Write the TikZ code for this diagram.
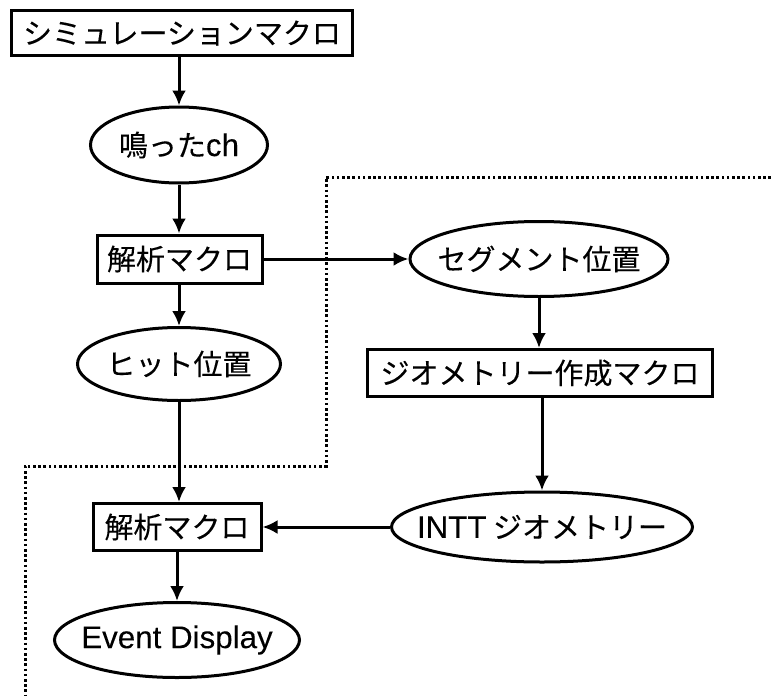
\documentclass[tikz,border=0pt]{standalone}
\usepackage{fontspec}
\setmainfont{Noto Sans CJK JP}[FakeBold=0.2]
\newfontfamily\latin{Liberation Sans}[Scale=1.08,FakeBold=0.1]
\usetikzlibrary{arrows.meta,shapes.geometric}
% label in a zero-width box, so an ellipse keeps its given size
\newcommand\flatlabel[1]{\makebox[0pt]{#1}}
\begin{document}
\begin{tikzpicture}[x=1pt,y=-1pt,
  every node/.style={font=\fontsize{29}{32}\selectfont, inner sep=0pt},
  macro/.style={draw, rectangle, line width=3pt},
  data/.style={draw, ellipse, line width=3pt},
  flow/.style={line width=3pt, -{Latex[length=15pt,width=14pt]}},
  bound/.style={line width=3pt, dash pattern=on 2.6pt off 2.6pt}]
\useasboundingbox (0,0) rectangle (771,696);

\node[macro, minimum width=341pt, minimum height=45pt] (sim) at (182,33) {シミュレーションマクロ};
\node[data, minimum width=177pt, minimum height=76pt] (ch) at (179,145) {\flatlabel{鳴った{\latin ch}}};
\node[macro, minimum width=165pt, minimum height=48pt] (ana1) at (179.5,259) {解析マクロ};
\node[data, minimum width=258pt, minimum height=75pt] (seg) at (539,259) {\flatlabel{セグメント位置}};
\node[data, minimum width=203pt, minimum height=73pt] (hit) at (179,364) {\flatlabel{ヒット位置}};
\node[macro, minimum width=345pt, minimum height=47pt] (geo) at (540,373) {ジオメトリー作成マクロ};
\node[data, minimum width=301pt, minimum height=70pt] (intt) at (542,527) {\flatlabel{{\latin INTT} ジオメトリー}};
\node[macro, minimum width=168pt, minimum height=47pt] (ana2) at (177,527) {解析マクロ};
\node[data, minimum width=245pt, minimum height=75pt] (ev) at (177,640) {\flatlabel{\latin Event Display}};

% boundary of the geometry part
\coordinate (b1) at (771,177);
\coordinate (b2) at (326,177);
\coordinate (b3) at (326,466);
\coordinate (b4) at (25,466);
\coordinate (b5) at (25,696);
\draw[bound] (b1) -- (b2) -- (b3) -- (b4) -- (b5);

% data flow
\draw[flow] (sim.south -| ch) -- (ch.north);
\draw[flow] (ch.south) -- (ana1.north -| ch);
\draw[flow] (ana1.south -| hit) -- (hit.north);
\draw[flow] (ana1.east) -- (seg.west);
\draw[flow] (seg.south) -- (geo.north -| seg);
\draw[flow] (geo.south -| intt) -- (intt.north);
\draw[flow] (hit.south) -- (ana2.north -| hit);
\draw[flow] (intt.west) -- (ana2.east);
\draw[flow] (ana2.south -| ev) -- (ev.north);
\end{tikzpicture}
\end{document}
